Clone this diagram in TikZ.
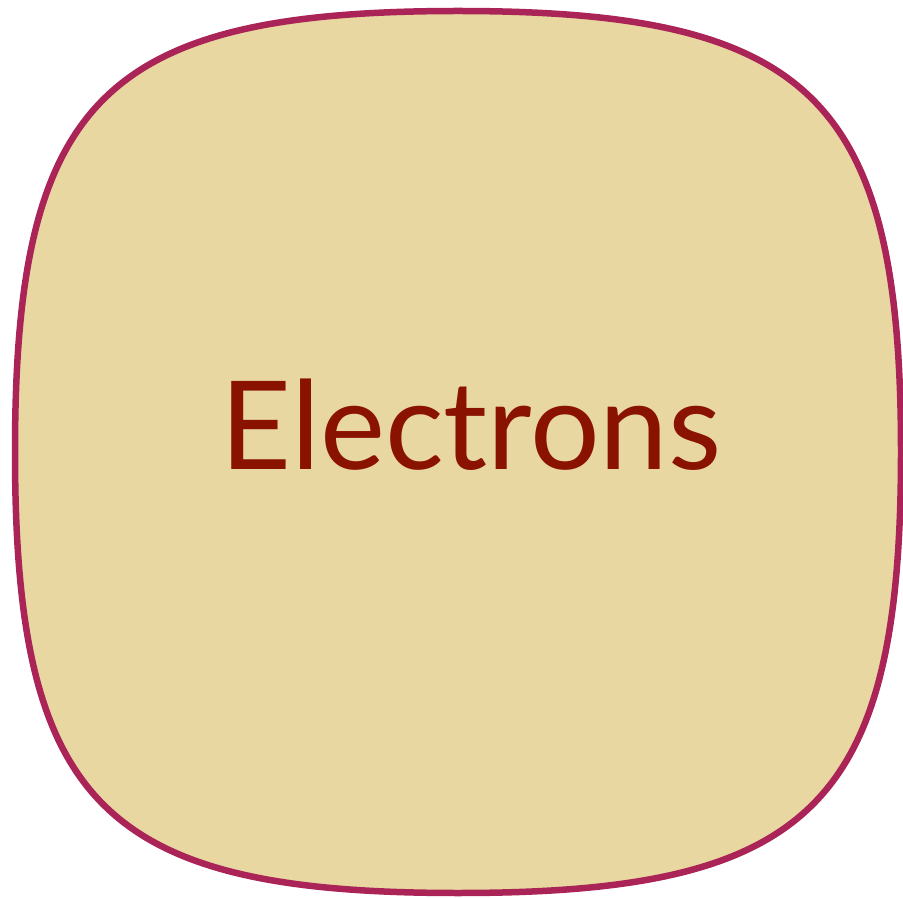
\documentclass[tikz,border=0pt]{standalone}
\usepackage{fontspec}
\setmainfont{Lato}
\usetikzlibrary{math}
\definecolor{myrim}{RGB}{170,36,88}
\definecolor{myfill}{RGB}{232,215,161}
\definecolor{mytext}{RGB}{138,18,0}

\begin{document}
\begin{tikzpicture}[x=0.02cm,y=-0.02cm]
\tikzmath{
\cx=458; \cy=452; \rx=443; \ry=441; \k=0.8;
}
\useasboundingbox (0,0) rectangle (903,898);

%the squircle
\filldraw[fill=myfill, draw=myrim, line width=0.13cm]
  (\cx,\cy-\ry) .. controls (\cx+\k*\rx,\cy-\ry) and (\cx+\rx,\cy-\k*\ry) .. (\cx+\rx,\cy)
  .. controls (\cx+\rx,\cy+\k*\ry) and (\cx+\k*\rx,\cy+\ry) .. (\cx,\cy+\ry)
  .. controls (\cx-\k*\rx,\cy+\ry) and (\cx-\rx,\cy+\k*\ry) .. (\cx-\rx,\cy)
  .. controls (\cx-\rx,\cy-\k*\ry) and (\cx-\k*\rx,\cy-\ry) .. (\cx,\cy-\ry) -- cycle;

%label
\node[anchor=base, inner sep=0, text=mytext, font=\fontsize{70}{80}\selectfont] (label) at (471,470) {Electrons};

\end{tikzpicture}
\end{document}
